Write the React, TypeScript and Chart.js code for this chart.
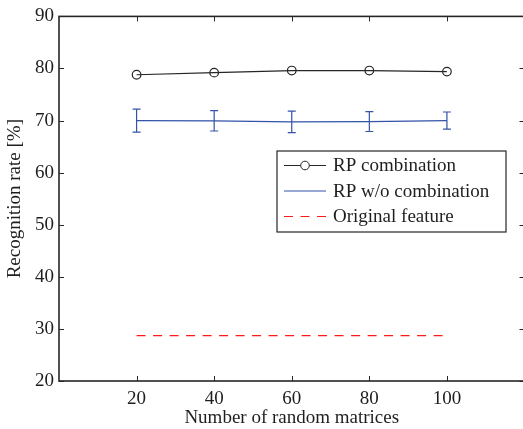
import React, { useEffect, useRef } from 'react';
import { Chart, registerables } from 'chart.js';

Chart.register(...registerables);

// ---- data ----
const xValues = [20, 40, 60, 80, 100];
const rpCombination = [78.8, 79.2, 79.6, 79.6, 79.4];
const rpWithout = [70.0, 69.95, 69.75, 69.8, 70.0];
const rpWithoutErr = [2.2, 1.95, 2.05, 1.9, 1.65];
const originalFeature = [28.7, 28.7, 28.7, 28.7, 28.7];
const xTicks = [20, 40, 60, 80, 100];
const yTicks = [20, 30, 40, 50, 60, 70, 80, 90];
const seriesLabels = ['RP combination', 'RP w/o combination', 'Original feature'];
const xTitle = 'Number of random matrices';
const yTitle = 'Recognition rate [%]';

const FONT = "'Liberation Serif', 'Times New Roman', serif";
const TEXT = '#1e1e1e';
const AXIS = '#262626';
const BLACK = '#262626';
const BLUE = '#3352a8';
const RED = '#ff1a1a';

const framePlugin = {
  id: 'frame',
  afterDraw(chart: any) {
    const { ctx, chartArea: a, scales } = chart;
    ctx.save();
    ctx.strokeStyle = AXIS;
    ctx.lineWidth = 1;
    const tl = 5;
    ctx.beginPath();
    for (const v of xTicks) {
      const px = Math.round(scales.x.getPixelForValue(v)) + 0.5;
      ctx.moveTo(px, a.bottom);
      ctx.lineTo(px, a.bottom - tl);
      ctx.moveTo(px, a.top);
      ctx.lineTo(px, a.top + tl);
    }
    for (const v of yTicks) {
      const py = Math.round(scales.y.getPixelForValue(v)) + 0.5;
      ctx.moveTo(a.left, py);
      ctx.lineTo(a.left + tl, py);
      ctx.moveTo(a.right, py);
      ctx.lineTo(a.right - tl, py);
    }
    ctx.stroke();
    ctx.lineWidth = 1.6;
    ctx.strokeRect(a.left, a.top, a.right - a.left, a.bottom - a.top);
    ctx.restore();
  },
};

const errorBarPlugin = {
  id: 'errorBars',
  afterDatasetsDraw(chart: any) {
    const { ctx, scales } = chart;
    ctx.save();
    ctx.strokeStyle = BLUE;
    ctx.lineWidth = 1.2;
    const cap = 4;
    ctx.beginPath();
    xValues.forEach((x, i) => {
      const px = scales.x.getPixelForValue(x);
      const top = scales.y.getPixelForValue(rpWithout[i] + rpWithoutErr[i]);
      const bot = scales.y.getPixelForValue(rpWithout[i] - rpWithoutErr[i]);
      ctx.moveTo(px, top);
      ctx.lineTo(px, bot);
      ctx.moveTo(px - cap, top);
      ctx.lineTo(px + cap, top);
      ctx.moveTo(px - cap, bot);
      ctx.lineTo(px + cap, bot);
    });
    ctx.stroke();
    ctx.restore();
  },
};

const boxLegendPlugin = {
  id: 'boxLegend',
  afterDraw(chart: any) {
    const { ctx } = chart;
    const bx = 277, by = 151, bw = 229, bh = 81;
    ctx.save();
    ctx.fillStyle = '#ffffff';
    ctx.fillRect(bx, by, bw, bh);
    ctx.strokeStyle = AXIS;
    ctx.lineWidth = 1.2;
    ctx.strokeRect(bx, by, bw, bh);
    const rows = [165.5, 191, 216.5];
    const x0 = 284, x1 = 326, tx = 333;
    chart.data.datasets.forEach((ds: any, i: number) => {
      const y = rows[i];
      ctx.beginPath();
      ctx.strokeStyle = ds.borderColor;
      ctx.lineWidth = 1;
      ctx.setLineDash(ds.borderDash || []);
      ctx.moveTo(x0, y);
      ctx.lineTo(x1, y);
      ctx.stroke();
      ctx.setLineDash([]);
      if (ds.pointRadius > 0) {
        ctx.beginPath();
        ctx.fillStyle = '#ffffff';
        ctx.arc((x0 + x1) / 2, y, ds.pointRadius, 0, Math.PI * 2);
        ctx.fill();
        ctx.strokeStyle = ds.pointBorderColor;
        ctx.stroke();
      }
      ctx.fillStyle = TEXT;
      ctx.font = `19px ${FONT}`;
      ctx.textBaseline = 'middle';
      ctx.textAlign = 'left';
      ctx.fillText(ds.label, tx, y + 1);
    });
    ctx.restore();
  },
};

export default function App() {
  const ref = useRef<HTMLCanvasElement | null>(null);

  useEffect(() => {
    if (!ref.current) return;
    const chart = new Chart(ref.current, {
      type: 'line',
      data: {
        datasets: [
          {
            label: seriesLabels[0],
            data: xValues.map((x, i) => ({ x, y: rpCombination[i] })),
            borderColor: BLACK,
            borderWidth: 1.2,
            pointRadius: 4.3,
            pointBorderColor: BLACK,
            pointBackgroundColor: 'rgba(255,255,255,0)',
            pointBorderWidth: 1.2,
            fill: false,
            tension: 0,
          },
          {
            label: seriesLabels[1],
            data: xValues.map((x, i) => ({ x, y: rpWithout[i] })),
            borderColor: BLUE,
            borderWidth: 1.2,
            pointRadius: 0,
            fill: false,
            tension: 0,
          },
          {
            label: seriesLabels[2],
            data: xValues.map((x, i) => ({ x, y: originalFeature[i] })),
            borderColor: RED,
            borderWidth: 1.2,
            borderDash: [9, 7.5],
            pointRadius: 0,
            fill: false,
            tension: 0,
          },
        ],
      },
      options: {
        animation: false,
        responsive: false,
        devicePixelRatio: 1,
        layout: { padding: { top: 15, right: 5, left: 0, bottom: 0 } },
        plugins: {
          legend: { display: false },
          tooltip: { enabled: false },
        },
        scales: {
          x: {
            type: 'linear',
            min: 0,
            max: 120,
            afterBuildTicks: (s: any) => {
              s.ticks = xTicks.map((v) => ({ value: v }));
            },
            afterFit: (s: any) => {
              s.height = 48;
            },
            grid: { display: false, drawTicks: false },
            border: { display: false },
            ticks: {
              font: { family: FONT, size: 19 },
              color: TEXT,
              padding: 7,
              maxRotation: 0,
              autoSkip: false,
            },
            title: {
              display: true,
              text: xTitle,
              font: { family: FONT, size: 19 },
              color: TEXT,
              padding: { top: 0, bottom: 0 },
            },
          },
          y: {
            type: 'linear',
            min: 20,
            max: 90,
            afterBuildTicks: (s: any) => {
              s.ticks = yTicks.map((v) => ({ value: v }));
            },
            afterFit: (s: any) => {
              s.width = 59;
            },
            grid: { display: false, drawTicks: false },
            border: { display: false },
            ticks: {
              font: { family: FONT, size: 19 },
              color: TEXT,
              padding: 5,
              autoSkip: false,
            },
            title: {
              display: true,
              text: yTitle,
              font: { family: FONT, size: 19 },
              color: TEXT,
              padding: { top: 4, bottom: 0 },
            },
          },
        },
      },
      plugins: [framePlugin, errorBarPlugin, boxLegendPlugin],
    } as any);
    return () => chart.destroy();
  }, []);

  return (
    <div
      style={{
        position: 'fixed',
        left: 0,
        top: 0,
        width: 523,
        height: 429,
        overflow: 'hidden',
        background: '#ffffff',
      }}
    >
      <canvas ref={ref} width={530} height={429} style={{ display: 'block' }} />
    </div>
  );
}
